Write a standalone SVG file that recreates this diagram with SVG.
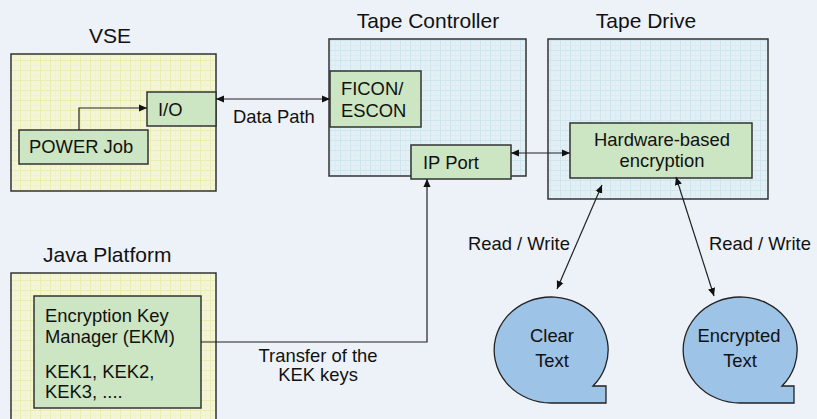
<svg xmlns="http://www.w3.org/2000/svg" width="817" height="419" viewBox="0 0 817 419">
  <style>
    text { font-family: "Liberation Sans", Arial, sans-serif; fill: #111; }
    .title { font-size: 21px; }
    .lbl { font-size: 18.4px; }
    .mid { text-anchor: middle; }
    .frame { stroke: #333; stroke-width: 1.5; }
    .inner { fill: #CCE5C2; stroke: #333; stroke-width: 1.5; }
    .bubble { fill: #9DC3E6; stroke: #222; stroke-width: 1.3; }
    .conn { fill: none; stroke: #222; stroke-width: 1.2; }
  </style>
  <defs>
    <!-- faint graph-paper fills for the container boxes -->
    <pattern id="gridYellow" width="10" height="10" patternUnits="userSpaceOnUse">
      <rect width="10" height="10" fill="#F3F5D6"/>
      <path d="M0,0.5 H10 M0.5,0 V10" stroke="#EAEDB0" stroke-width="1"/>
      <path d="M0,5.5 H10 M5.5,0 V10" stroke="#EFF1C6" stroke-width="0.6"/>
    </pattern>
    <pattern id="gridBlue" width="10" height="10" patternUnits="userSpaceOnUse">
      <rect width="10" height="10" fill="#E2EFF5"/>
      <path d="M0,0.5 H10 M0.5,0 V10" stroke="#CFE5EE" stroke-width="1"/>
      <path d="M0,5.5 H10 M5.5,0 V10" stroke="#DAEAF2" stroke-width="0.6"/>
    </pattern>
    <marker id="arrow" viewBox="0 0 10 10" refX="10" refY="5" markerWidth="8" markerHeight="8" markerUnits="userSpaceOnUse" orient="auto-start-reverse">
      <path d="M0,0.5 L10,5 L0,9.5 Z" fill="#111"/>
    </marker>
  </defs>

  <rect width="817" height="419" fill="#EDF1F8"/>

  <!-- VSE -->
  <g id="vse">
    <text class="title mid" x="110" y="43">VSE</text>
    <rect class="frame" x="11" y="54" width="205" height="137" fill="url(#gridYellow)"/>
  </g>
  <g id="io">
    <rect class="inner" x="147" y="92" width="69" height="34"/>
    <text class="lbl" x="158" y="116">I/O</text>
  </g>
  <g id="power-job">
    <rect class="inner" x="19" y="130" width="129" height="34"/>
    <text class="lbl" x="29" y="153">POWER Job</text>
  </g>

  <!-- Tape Controller -->
  <g id="tape-controller">
    <text class="title mid" x="428" y="28">Tape Controller</text>
    <rect class="frame" x="329" y="39" width="197" height="137" fill="url(#gridBlue)"/>
  </g>
  <g id="ficon">
    <rect class="inner" x="330" y="71" width="91" height="56"/>
    <text class="lbl" x="341" y="95">FICON/</text>
    <text class="lbl" x="341" y="117">ESCON</text>
  </g>
  <g id="ip-port">
    <rect class="inner" x="411" y="145" width="100" height="34"/>
    <text class="lbl" x="423" y="169">IP Port</text>
  </g>

  <!-- Tape Drive -->
  <g id="tape-drive">
    <text class="title mid" x="646" y="28">Tape Drive</text>
    <rect class="frame" x="548" y="39" width="220" height="160" fill="url(#gridBlue)"/>
  </g>
  <g id="hw-encryption">
    <rect class="inner" x="570" y="123" width="182" height="55"/>
    <text class="lbl mid" x="662" y="146">Hardware-based</text>
    <text class="lbl mid" x="662" y="167">encryption</text>
  </g>

  <!-- Java Platform -->
  <g id="java-platform">
    <text class="title" x="43" y="262">Java Platform</text>
    <rect class="frame" x="11" y="273" width="205" height="160" fill="url(#gridYellow)"/>
  </g>
  <g id="ekm">
    <rect class="inner" x="34" y="296" width="167" height="112"/>
    <text class="lbl" x="45" y="322">Encryption Key</text>
    <text class="lbl" x="45" y="343">Manager (EKM)</text>
    <text class="lbl" x="45" y="378">KEK1, KEK2,</text>
    <text class="lbl" x="45" y="398">KEK3, ....</text>
  </g>

  <!-- Data stores -->
  <g id="clear-text">
    <path class="bubble" d="M593,386 A57,53 0 1 0 552,403 L606,403 L606,386 Z"/>
    <text class="lbl mid" x="552" y="342">Clear</text>
    <text class="lbl mid" x="552" y="367">Text</text>
  </g>
  <g id="encrypted-text">
    <path class="bubble" d="M782,386 A57,53 0 1 0 741,403 L794,403 L794,386 Z"/>
    <text class="lbl mid" x="739" y="342">Encrypted</text>
    <text class="lbl mid" x="740" y="367">Text</text>
  </g>

  <!-- Connectors -->
  <g id="connectors">
    <path class="conn" d="M79,130 V108 H147" marker-end="url(#arrow)"/>
    <path class="conn" d="M216,99 H330" marker-start="url(#arrow)" marker-end="url(#arrow)"/>
    <path class="conn" d="M511,153 H570" marker-start="url(#arrow)" marker-end="url(#arrow)"/>
    <path class="conn" d="M201,342 H427 V179" marker-end="url(#arrow)"/>
    <path class="conn" d="M602,185 L557,289" marker-start="url(#arrow)" marker-end="url(#arrow)"/>
    <path class="conn" d="M676,177 L714,296" marker-start="url(#arrow)" marker-end="url(#arrow)"/>
    <text class="lbl" x="233" y="123">Data Path</text>
    <text class="lbl mid" x="318" y="362">Transfer of the</text>
    <text class="lbl mid" x="318" y="381">KEK keys</text>
    <text class="lbl" x="468" y="250">Read / Write</text>
    <text class="lbl" x="709" y="250">Read / Write</text>
  </g>
</svg>
